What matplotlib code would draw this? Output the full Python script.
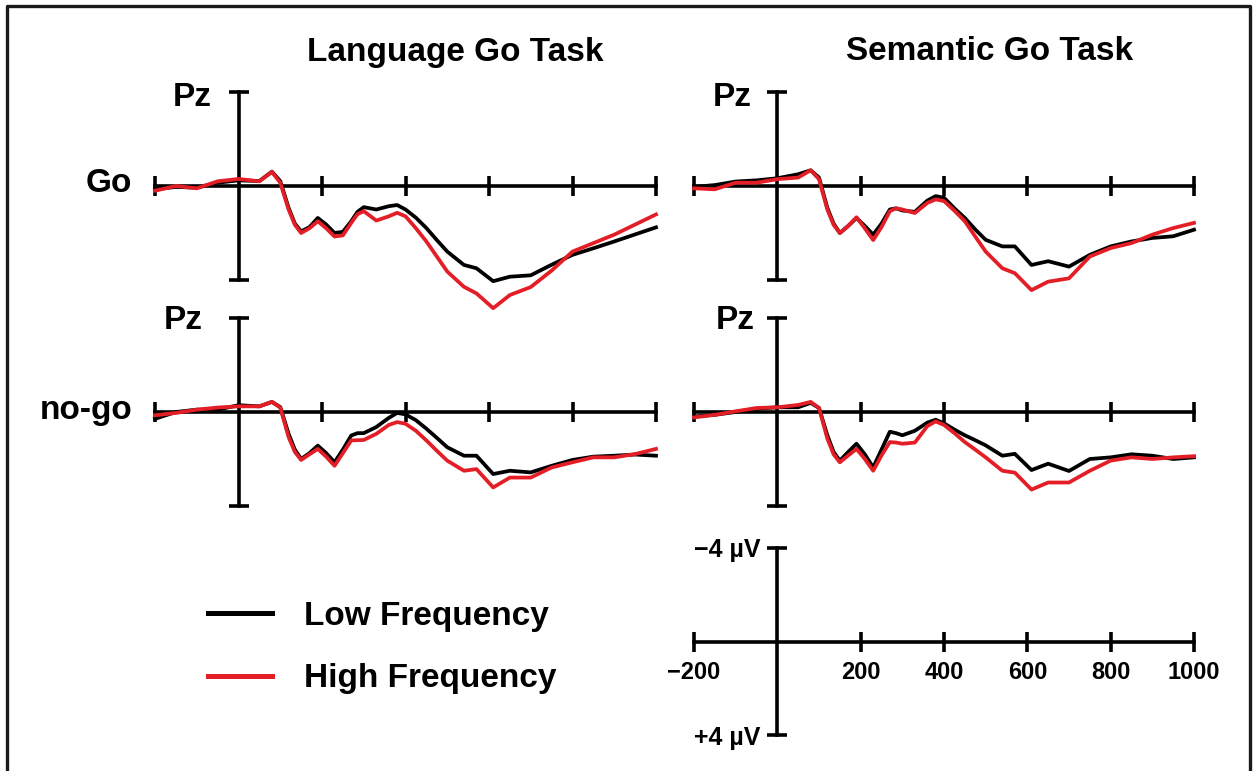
import matplotlib
matplotlib.use("Agg")
import matplotlib.pyplot as plt
from matplotlib.lines import Line2D

plt.rcParams["font.family"] = ["Liberation Sans", "DejaVu Sans"]
plt.rcParams["font.weight"] = "bold"

W, H = 1256, 771

# ── ERP data (µV, positive plotted downward) ───────────────────────────────────
time_ms = [-200, -150, -100, -50, 0, 50, 80, 100, 120, 135, 150, 170, 190, 210,
           230, 250, 270, 285, 300, 330, 360, 380, 400, 425, 450, 475, 500, 540,
           570, 610, 650, 700, 750, 800, 850, 900, 950, 1000]

lang_go_low = [0.14, 0.04, 0.07, -0.14, -0.24, -0.21, -0.61, -0.21, 0.93, 1.6,
               1.93, 1.75, 1.36, 1.64, 2.0, 1.95, 1.5, 1.1, 0.9, 1.0, 0.86, 0.81,
               1.0, 1.35, 1.79, 2.3, 2.79, 3.36, 3.5, 4.05, 3.86, 3.8, 3.35, 2.93,
               2.65, 2.36, 2.06, 1.76]
lang_go_high = [0.2, 0.0, 0.1, -0.2, -0.3, -0.2, -0.6, -0.14, 1.0, 1.65, 2.0, 1.8,
                1.5, 1.8, 2.15, 2.1, 1.57, 1.2, 1.07, 1.47, 1.29, 1.14, 1.29, 1.8,
                2.36, 3.0, 3.64, 4.29, 4.57, 5.2, 4.64, 4.3, 3.6, 2.79, 2.43, 2.07,
                1.64, 1.21]

sem_go_low = [0.04, -0.04, -0.19, -0.24, -0.33, -0.5, -0.67, -0.36, 0.93, 1.6,
              2.0, 1.7, 1.36, 1.7, 2.07, 1.6, 1.0, 0.95, 1.04, 1.1, 0.62, 0.43,
              0.5, 0.95, 1.36, 1.85, 2.29, 2.57, 2.57, 3.36, 3.2, 3.43, 2.93, 2.57,
              2.36, 2.21, 2.14, 1.86]
sem_go_high = [0.1, 0.14, -0.14, -0.14, -0.29, -0.36, -0.67, -0.29, 1.0, 1.65, 2.0,
               1.7, 1.33, 1.8, 2.3, 1.75, 1.07, 0.95, 1.0, 1.15, 0.72, 0.57, 0.64,
               1.05, 1.5, 2.15, 2.79, 3.5, 3.71, 4.43, 4.07, 3.93, 3.0, 2.64, 2.43,
               2.07, 1.79, 1.57]

lang_nogo_low = [0.29, 0.0, -0.1, -0.1, -0.29, -0.24, -0.43, -0.21, 0.93, 1.6,
                 2.0, 1.75, 1.43, 1.75, 2.14, 1.6, 1.0, 0.9, 0.9, 0.64, 0.25, 0.04,
                 0.1, 0.35, 0.71, 1.1, 1.5, 1.86, 1.86, 2.64, 2.5, 2.57, 2.29, 2.04,
                 1.9, 1.86, 1.81, 1.86]
lang_nogo_high = [0.14, 0.04, -0.1, -0.19, -0.24, -0.24, -0.43, -0.19, 1.07, 1.7,
                  2.04, 1.8, 1.57, 1.9, 2.29, 1.75, 1.21, 1.2, 1.19, 0.93, 0.55,
                  0.43, 0.5, 0.8, 1.21, 1.65, 2.07, 2.5, 2.43, 3.21, 2.79, 2.79,
                  2.36, 2.14, 1.93, 1.93, 1.79, 1.57]

sem_nogo_low = [0.19, 0.12, 0.0, -0.14, -0.2, -0.2, -0.39, -0.17, 0.99, 1.7, 2.07,
                1.7, 1.35, 1.8, 2.36, 1.6, 0.84, 0.9, 0.99, 0.8, 0.45, 0.33, 0.48,
                0.75, 0.99, 1.2, 1.42, 1.86, 1.78, 2.47, 2.2, 2.51, 2.0, 1.93, 1.8,
                1.86, 2.0, 1.93]
sem_nogo_high = [0.23, 0.12, -0.03, -0.17, -0.2, -0.3, -0.43, -0.17, 1.13, 1.8,
                 2.14, 1.85, 1.57, 2.0, 2.5, 1.85, 1.28, 1.3, 1.35, 1.3, 0.6, 0.4,
                 0.55, 0.9, 1.28, 1.6, 1.93, 2.5, 2.58, 3.3, 3.0, 3.0, 2.5, 2.07,
                 1.93, 2.0, 1.93, 1.88]

x_ticks = [-200, 200, 400, 600, 800, 1000]
x_ticklabels = ["\u2212200", "200", "400", "600", "800", "1000"]
y_ticks = [-4, 4]
y_ticklabels = ["\u22124 \u00b5V", "+4 \u00b5V"]

LOW_COLOR = "black"
HIGH_COLOR = "#e41e26"
AXIS_LW = 2.6

fig = plt.figure(figsize=(W / 100, H / 100), dpi=100)


def px_rect(x0, y0, x1, y1):
    return [x0 / W, 1 - y1 / H, (x1 - x0) / W, (y1 - y0) / H]


def px_text(x, y, s, **kw):
    fig.text(x / W, 1 - y / H, s, fontweight="bold", **kw)


def erp_axes(rect, labels=False):
    ax = fig.add_axes(rect)
    ax.set_xlim(-200, 1000)
    ax.set_ylim(4, -4)
    ax.patch.set_visible(False)
    for side in ("top", "right"):
        ax.spines[side].set_visible(False)
    ax.spines["left"].set_position(("data", 0))
    ax.spines["bottom"].set_position(("data", 0))
    for side in ("left", "bottom"):
        ax.spines[side].set_linewidth(AXIS_LW)
    ax.set_xticks(x_ticks)
    ax.set_yticks(y_ticks)
    ax.tick_params(direction="inout", length=14, width=AXIS_LW)
    if labels:
        ax.set_xticklabels(x_ticklabels, fontsize=17, fontweight="bold")
        ax.set_yticklabels(y_ticklabels, fontsize=18, fontweight="bold")
        ax.tick_params(axis="x", pad=7)
        ax.tick_params(axis="y", pad=5)
    else:
        ax.set_xticklabels([])
        ax.set_yticklabels([])
    return ax


def draw_pair(ax, low, high):
    ax.plot(time_ms, low, color=LOW_COLOR, lw=2.7, clip_on=False, zorder=3,
            solid_joinstyle="round")
    ax.plot(time_ms, high, color=HIGH_COLOR, lw=2.7, clip_on=False, zorder=4,
            solid_joinstyle="round")


ax_lg = erp_axes(px_rect(155, 92, 656, 280))
draw_pair(ax_lg, lang_go_low, lang_go_high)
ax_sg = erp_axes(px_rect(694, 92, 1194, 280))
draw_pair(ax_sg, sem_go_low, sem_go_high)
ax_ln = erp_axes(px_rect(155, 318, 656, 506))
draw_pair(ax_ln, lang_nogo_low, lang_nogo_high)
ax_sn = erp_axes(px_rect(694, 318, 1194, 506))
draw_pair(ax_sn, sem_nogo_low, sem_nogo_high)
ax_scale = erp_axes(px_rect(694, 548, 1194, 735), labels=True)

# titles and row labels
px_text(455, 52, "Language Go Task", fontsize=24, ha="center", va="center")
px_text(990, 52, "Semantic Go Task", fontsize=24, ha="center", va="center")
px_text(212, 97, "Pz", fontsize=24, ha="right", va="center")
px_text(752, 97, "Pz", fontsize=24, ha="right", va="center")
px_text(203, 320, "Pz", fontsize=24, ha="right", va="center")
px_text(755, 320, "Pz", fontsize=24, ha="right", va="center")
px_text(132, 183, "Go", fontsize=24, ha="right", va="center")
px_text(132, 411, "no-go", fontsize=24, ha="right", va="center")

# legend
handles = [Line2D([], [], color=LOW_COLOR, lw=3.6),
           Line2D([], [], color=HIGH_COLOR, lw=3.6)]
fig.legend(handles, ["Low Frequency", "High Frequency"], loc="upper left",
           bbox_to_anchor=(208 / W, 1 - 601 / H), frameon=False,
           prop={"size": 24, "weight": "bold"}, borderpad=0, borderaxespad=0,
           handlelength=1.92, handletextpad=0.95, labelspacing=0.94)

# frame (open at the bottom)
fig.add_artist(Line2D([7 / W, 7 / W, 1250 / W, 1250 / W],
                      [0, 1 - 6 / H, 1 - 6 / H, 0],
                      transform=fig.transFigure, color="#1a1a1a", lw=2.4))

fig.savefig("out.png", dpi=100)
